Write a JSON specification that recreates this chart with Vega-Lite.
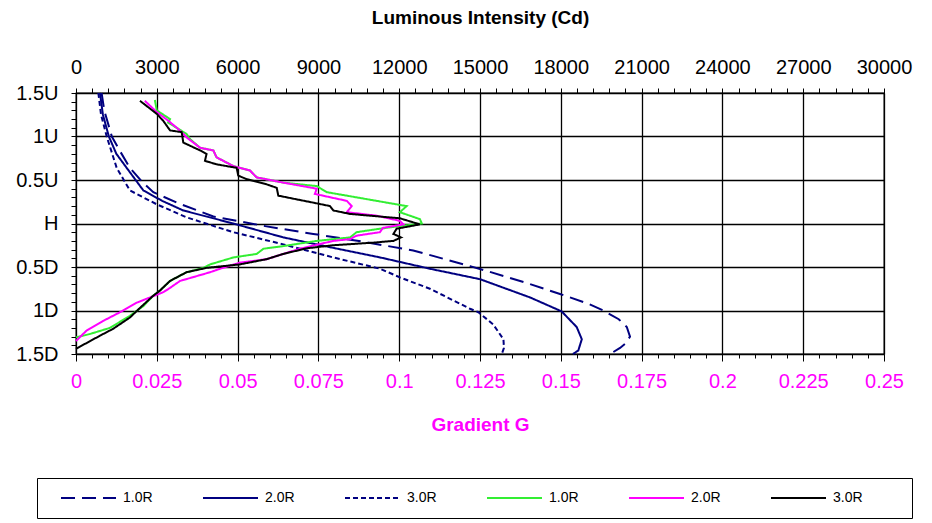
{
  "$schema": "https://vega.github.io/schema/vega-lite/v6.json",
  "width": 808,
  "height": 261,
  "autosize": {"type": "none"},
  "padding": {"left": 76, "top": 93, "right": 48, "bottom": 169},
  "background": "white",
  "config": {
    "view": {"stroke": "#000", "strokeWidth": 1.3},
    "font": "Liberation Sans"
  },
  "datasets": {
    "lum": [
      {"series": "L1", "y": 1.5, "cd": 950}, {"series": "L1", "y": 1.3, "cd": 1050}, {"series": "L1", "y": 1.0, "cd": 1330},
      {"series": "L1", "y": 0.85, "cd": 1600}, {"series": "L1", "y": 0.64, "cd": 2000}, {"series": "L1", "y": 0.48, "cd": 2450},
      {"series": "L1", "y": 0.36, "cd": 2870}, {"series": "L1", "y": 0.24, "cd": 3740}, {"series": "L1", "y": 0.08, "cd": 5100},
      {"series": "L1", "y": -0.03, "cd": 7020}, {"series": "L1", "y": -0.12, "cd": 8810}, {"series": "L1", "y": -0.21, "cd": 10670},
      {"series": "L1", "y": -0.31, "cd": 12520}, {"series": "L1", "y": -0.49, "cd": 14630}, {"series": "L1", "y": -0.55, "cd": 15300},
      {"series": "L1", "y": -0.68, "cd": 16700}, {"series": "L1", "y": -0.81, "cd": 17970}, {"series": "L1", "y": -0.92, "cd": 19000},
      {"series": "L1", "y": -1.0, "cd": 19580}, {"series": "L1", "y": -1.1, "cd": 20150}, {"series": "L1", "y": -1.19, "cd": 20450},
      {"series": "L1", "y": -1.3, "cd": 20570}, {"series": "L1", "y": -1.38, "cd": 20400}, {"series": "L1", "y": -1.43, "cd": 20200},
      {"series": "L1", "y": -1.5, "cd": 19830},
      {"series": "L2", "y": 1.5, "cd": 890}, {"series": "L2", "y": 1.25, "cd": 1000}, {"series": "L2", "y": 1.0, "cd": 1220},
      {"series": "L2", "y": 0.8, "cd": 1500}, {"series": "L2", "y": 0.64, "cd": 1880}, {"series": "L2", "y": 0.38, "cd": 2500},
      {"series": "L2", "y": 0.26, "cd": 3200}, {"series": "L2", "y": 0.15, "cd": 3980}, {"series": "L2", "y": 0.0, "cd": 5840},
      {"series": "L2", "y": -0.16, "cd": 7700}, {"series": "L2", "y": -0.28, "cd": 9550}, {"series": "L2", "y": -0.39, "cd": 11290},
      {"series": "L2", "y": -0.52, "cd": 13140}, {"series": "L2", "y": -0.64, "cd": 15000}, {"series": "L2", "y": -0.85, "cd": 16860},
      {"series": "L2", "y": -1.01, "cd": 18030}, {"series": "L2", "y": -1.19, "cd": 18590}, {"series": "L2", "y": -1.33, "cd": 18780},
      {"series": "L2", "y": -1.46, "cd": 18650}, {"series": "L2", "y": -1.5, "cd": 18450},
      {"series": "L3", "y": 1.5, "cd": 830}, {"series": "L3", "y": 1.25, "cd": 930}, {"series": "L3", "y": 1.0, "cd": 1140},
      {"series": "L3", "y": 0.64, "cd": 1510}, {"series": "L3", "y": 0.38, "cd": 2000}, {"series": "L3", "y": 0.22, "cd": 3000},
      {"series": "L3", "y": 0.07, "cd": 4110}, {"series": "L3", "y": -0.1, "cd": 5840}, {"series": "L3", "y": -0.24, "cd": 7700},
      {"series": "L3", "y": -0.39, "cd": 9550}, {"series": "L3", "y": -0.52, "cd": 11290}, {"series": "L3", "y": -0.62, "cd": 12030},
      {"series": "L3", "y": -0.75, "cd": 13140}, {"series": "L3", "y": -0.98, "cd": 14630}, {"series": "L3", "y": -1.02, "cd": 14940},
      {"series": "L3", "y": -1.16, "cd": 15490}, {"series": "L3", "y": -1.33, "cd": 15870}, {"series": "L3", "y": -1.43, "cd": 15890},
      {"series": "L3", "y": -1.5, "cd": 15810}
    ],
    "grad": [
      {"series": "G1", "y": 1.42, "g": 0.0244}, {"series": "G1", "y": 1.3, "g": 0.025}, {"series": "G1", "y": 1.2, "g": 0.0291},
      {"series": "G1", "y": 1.16, "g": 0.0285}, {"series": "G1", "y": 1.03, "g": 0.0342}, {"series": "G1", "y": 0.97, "g": 0.0353},
      {"series": "G1", "y": 0.87, "g": 0.0384}, {"series": "G1", "y": 0.84, "g": 0.0425}, {"series": "G1", "y": 0.76, "g": 0.0435},
      {"series": "G1", "y": 0.66, "g": 0.0487}, {"series": "G1", "y": 0.61, "g": 0.0538}, {"series": "G1", "y": 0.53, "g": 0.0559},
      {"series": "G1", "y": 0.47, "g": 0.0641}, {"series": "G1", "y": 0.43, "g": 0.0745}, {"series": "G1", "y": 0.36, "g": 0.0776},
      {"series": "G1", "y": 0.22, "g": 0.0992}, {"series": "G1", "y": 0.2, "g": 0.1023}, {"series": "G1", "y": 0.13, "g": 0.1002},
      {"series": "G1", "y": 0.05, "g": 0.1064}, {"series": "G1", "y": 0.0, "g": 0.107}, {"series": "G1", "y": -0.03, "g": 0.1002},
      {"series": "G1", "y": -0.06, "g": 0.094}, {"series": "G1", "y": -0.1, "g": 0.0868}, {"series": "G1", "y": -0.16, "g": 0.0848},
      {"series": "G1", "y": -0.2, "g": 0.0745}, {"series": "G1", "y": -0.26, "g": 0.0641}, {"series": "G1", "y": -0.29, "g": 0.058},
      {"series": "G1", "y": -0.35, "g": 0.0559}, {"series": "G1", "y": -0.39, "g": 0.0487}, {"series": "G1", "y": -0.47, "g": 0.0415},
      {"series": "G1", "y": -0.51, "g": 0.0394}, {"series": "G1", "y": -0.56, "g": 0.0342}, {"series": "G1", "y": -0.66, "g": 0.0291},
      {"series": "G1", "y": -0.77, "g": 0.026}, {"series": "G1", "y": -0.83, "g": 0.0239}, {"series": "G1", "y": -0.95, "g": 0.0208},
      {"series": "G1", "y": -1.06, "g": 0.0167}, {"series": "G1", "y": -1.2, "g": 0.0105}, {"series": "G1", "y": -1.27, "g": 0.0043},
      {"series": "G1", "y": -1.31, "g": 0.0},
      {"series": "G2", "y": 1.41, "g": 0.0213}, {"series": "G2", "y": 1.28, "g": 0.025}, {"series": "G2", "y": 1.18, "g": 0.0286},
      {"series": "G2", "y": 1.1, "g": 0.0312}, {"series": "G2", "y": 1.03, "g": 0.0332}, {"series": "G2", "y": 0.99, "g": 0.0342},
      {"series": "G2", "y": 0.87, "g": 0.0384}, {"series": "G2", "y": 0.84, "g": 0.0425}, {"series": "G2", "y": 0.76, "g": 0.0435},
      {"series": "G2", "y": 0.66, "g": 0.0487}, {"series": "G2", "y": 0.61, "g": 0.0538}, {"series": "G2", "y": 0.53, "g": 0.0559},
      {"series": "G2", "y": 0.47, "g": 0.0641}, {"series": "G2", "y": 0.4, "g": 0.0745}, {"series": "G2", "y": 0.34, "g": 0.0739},
      {"series": "G2", "y": 0.26, "g": 0.0838}, {"series": "G2", "y": 0.2, "g": 0.0853}, {"series": "G2", "y": 0.13, "g": 0.0838},
      {"series": "G2", "y": 0.09, "g": 0.093}, {"series": "G2", "y": 0.03, "g": 0.1002}, {"series": "G2", "y": -0.01, "g": 0.1013},
      {"series": "G2", "y": -0.05, "g": 0.095}, {"series": "G2", "y": -0.1, "g": 0.094}, {"series": "G2", "y": -0.14, "g": 0.0868},
      {"series": "G2", "y": -0.18, "g": 0.0848}, {"series": "G2", "y": -0.2, "g": 0.0796}, {"series": "G2", "y": -0.29, "g": 0.0693},
      {"series": "G2", "y": -0.35, "g": 0.0641}, {"series": "G2", "y": -0.41, "g": 0.059}, {"series": "G2", "y": -0.45, "g": 0.0507},
      {"series": "G2", "y": -0.52, "g": 0.0446}, {"series": "G2", "y": -0.56, "g": 0.0415}, {"series": "G2", "y": -0.66, "g": 0.0322},
      {"series": "G2", "y": -0.74, "g": 0.0291}, {"series": "G2", "y": -0.79, "g": 0.027}, {"series": "G2", "y": -0.85, "g": 0.0229},
      {"series": "G2", "y": -0.91, "g": 0.0188}, {"series": "G2", "y": -1.02, "g": 0.0136}, {"series": "G2", "y": -1.12, "g": 0.0084},
      {"series": "G2", "y": -1.23, "g": 0.0033}, {"series": "G2", "y": -1.35, "g": 0.0},
      {"series": "G3", "y": 1.41, "g": 0.0198}, {"series": "G3", "y": 1.26, "g": 0.025}, {"series": "G3", "y": 1.18, "g": 0.027},
      {"series": "G3", "y": 1.07, "g": 0.0291}, {"series": "G3", "y": 1.05, "g": 0.0327}, {"series": "G3", "y": 0.93, "g": 0.0332},
      {"series": "G3", "y": 0.84, "g": 0.0384}, {"series": "G3", "y": 0.8, "g": 0.0404}, {"series": "G3", "y": 0.72, "g": 0.0399},
      {"series": "G3", "y": 0.68, "g": 0.0435}, {"series": "G3", "y": 0.64, "g": 0.0497}, {"series": "G3", "y": 0.55, "g": 0.0502},
      {"series": "G3", "y": 0.51, "g": 0.0528}, {"series": "G3", "y": 0.45, "g": 0.059}, {"series": "G3", "y": 0.41, "g": 0.0621},
      {"series": "G3", "y": 0.32, "g": 0.0626}, {"series": "G3", "y": 0.27, "g": 0.0693}, {"series": "G3", "y": 0.24, "g": 0.0734},
      {"series": "G3", "y": 0.2, "g": 0.0786}, {"series": "G3", "y": 0.15, "g": 0.0796}, {"series": "G3", "y": 0.11, "g": 0.0848},
      {"series": "G3", "y": 0.06, "g": 0.1002}, {"series": "G3", "y": -0.01, "g": 0.1064}, {"series": "G3", "y": -0.06, "g": 0.0992},
      {"series": "G3", "y": -0.12, "g": 0.0982}, {"series": "G3", "y": -0.16, "g": 0.1006}, {"series": "G3", "y": -0.2, "g": 0.0982},
      {"series": "G3", "y": -0.22, "g": 0.092}, {"series": "G3", "y": -0.25, "g": 0.0796}, {"series": "G3", "y": -0.285, "g": 0.0714},
      {"series": "G3", "y": -0.35, "g": 0.0641}, {"series": "G3", "y": -0.41, "g": 0.059}, {"series": "G3", "y": -0.47, "g": 0.0507},
      {"series": "G3", "y": -0.51, "g": 0.0404}, {"series": "G3", "y": -0.56, "g": 0.0342}, {"series": "G3", "y": -0.66, "g": 0.0291},
      {"series": "G3", "y": -0.77, "g": 0.026}, {"series": "G3", "y": -0.83, "g": 0.0239}, {"series": "G3", "y": -0.97, "g": 0.0198},
      {"series": "G3", "y": -1.08, "g": 0.0167}, {"series": "G3", "y": -1.21, "g": 0.0115}, {"series": "G3", "y": -1.29, "g": 0.0074},
      {"series": "G3", "y": -1.44, "g": 0.0}
    ]
  },
  "encoding": {
    "y": {
      "field": "y", "type": "quantitative",
      "scale": {"domain": [-1.5, 1.5], "nice": false, "zero": false},
      "axis": {
        "title": null, "domain": false, "labelFlush": false,
        "values": [-1.5,-1.4,-1.3,-1.2,-1.1,-1.0,-0.9,-0.8,-0.7,-0.6,-0.5,-0.4,-0.3,-0.2,-0.1,0,0.1,0.2,0.3,0.4,0.5,0.6,0.7,0.8,0.9,1.0,1.1,1.2,1.3,1.4,1.5],
        "labelExpr": "abs(datum.value*2-round(datum.value*2))<0.01 ? (datum.value > 0.01 ? toString(datum.value) + 'U' : (datum.value < -0.01 ? toString(-datum.value) + 'D' : 'H')) : ''",
        "labelOverlap": false, "labelFontSize": 20, "labelColor": "#000", "labelPadding": 13,
        "tickSize": 5, "tickColor": "#000", "tickWidth": 1,
        "grid": true, "gridColor": "#000", "gridWidth": 1.3,
        "gridOpacity": {"condition": {"test": "abs(datum.value*2-round(datum.value*2))<0.01", "value": 1}, "value": 0}
      }
    },
    "color": {
      "field": "series", "type": "nominal",
      "scale": {"domain": ["L1","L2","L3","G1","G2","G3"], "range": ["#000080","#000080","#000080","#33EE33","#FF00FF","#000000"]},
      "legend": {
        "orient": "none", "legendX": -39, "legendY": 385, "direction": "horizontal", "columns": 6,
        "title": ".", "titleOrient": "right", "titleOpacity": 0, "titlePadding": 32, "titleFontSize": 14,
        "symbolType": "M0.667,0H9.833", "symbolSize": 144, "symbolStrokeWidth": 2,
        "labelFontSize": 14, "labelColor": "#000", "labelOffset": 59, "columnPadding": 39,
        "padding": 13, "strokeColor": "#000", "fillColor": "#fff",
        "labelExpr": "slice(datum.value, 1) + '.0R'"
      }
    },
    "strokeDash": {
      "field": "series", "type": "nominal",
      "scale": {"domain": ["L1","L2","L3","G1","G2","G3"], "range": [[14,7],[1,0],[5,3],[1,0],[1,0],[1,0]]},
      "legend": {
        "orient": "none", "legendX": -39, "legendY": 385, "direction": "horizontal", "columns": 6,
        "title": ".", "titleOrient": "right", "titleOpacity": 0, "titlePadding": 32, "titleFontSize": 14,
        "symbolType": "M0.667,0H9.833", "symbolSize": 144, "symbolStrokeWidth": 2,
        "labelFontSize": 14, "labelColor": "#000", "labelOffset": 59, "columnPadding": 39,
        "padding": 13, "strokeColor": "#000", "fillColor": "#fff",
        "labelExpr": "slice(datum.value, 1) + '.0R'"
      }
    }
  },
  "layer": [
    {
      "data": {"name": "lum"},
      "mark": {"type": "line", "strokeWidth": 2},
      "encoding": {
        "x": {
          "field": "cd", "type": "quantitative",
          "scale": {"domain": [0, 30000], "nice": false, "zero": false},
          "axis": {
            "orient": "top", "title": "Luminous Intensity (Cd)", "titleFontSize": 19, "titleFontWeight": "bold", "titleColor": "#000", "titlePadding": 30,
            "domain": false, "labelFlush": false,
            "values": [0,600,1200,1800,2400,3000,3600,4200,4800,5400,6000,6600,7200,7800,8400,9000,9600,10200,10800,11400,12000,12600,13200,13800,14400,15000,15600,16200,16800,17400,18000,18600,19200,19800,20400,21000,21600,22200,22800,23400,24000,24600,25200,25800,26400,27000,27600,28200,28800,29400,30000],
            "labelExpr": "datum.value % 3000 == 0 ? toString(datum.value) : ''",
            "labelOverlap": false, "labelFontSize": 20, "labelColor": "#000", "labelPadding": 11,
            "tickSize": 5, "tickColor": "#000", "tickWidth": 1,
            "grid": true, "gridColor": "#000", "gridWidth": 1.3,
            "gridOpacity": {"condition": {"test": "datum.value % 3000 == 0", "value": 1}, "value": 0}
          }
        },
        "order": {"value": null}
      }
    },
    {
      "data": {"name": "grad"},
      "mark": {"type": "line", "strokeWidth": 2},
      "encoding": {
        "x": {
          "field": "g", "type": "quantitative",
          "scale": {"domain": [0, 0.25], "nice": false, "zero": false},
          "axis": {
            "orient": "bottom", "title": "Gradient G", "titleFontSize": 19, "titleFontWeight": "bold", "titleColor": "#FF00FF", "titlePadding": 24,
            "domain": false, "grid": false, "labelFlush": false,
            "values": [0,0.005,0.01,0.015,0.02,0.025,0.03,0.035,0.04,0.045,0.05,0.055,0.06,0.065,0.07,0.075,0.08,0.085,0.09,0.095,0.1,0.105,0.11,0.115,0.12,0.125,0.13,0.135,0.14,0.145,0.15,0.155,0.16,0.165,0.17,0.175,0.18,0.185,0.19,0.195,0.2,0.205,0.21,0.215,0.22,0.225,0.23,0.235,0.24,0.245,0.25],
            "labelExpr": "abs(datum.value*40-round(datum.value*40))<0.001 ? toString(round(datum.value*1000)/1000) : ''",
            "labelOverlap": false, "labelFontSize": 20, "labelColor": "#FF00FF", "labelPadding": 10,
            "tickColor": "#000", "tickWidth": 1,
            "tickSize": {"condition": {"test": "abs(datum.value*40-round(datum.value*40))<0.001", "value": 7}, "value": 4}
          }
        },
        "order": {"value": null}
      }
    }
  ],
  "resolve": {"scale": {"x": "independent"}}
}
